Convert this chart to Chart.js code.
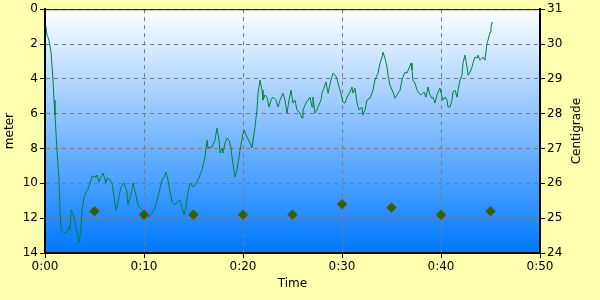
<!DOCTYPE html>
<html>
<head>
<meta charset="utf-8">
<script src="https://cdn.jsdelivr.net/npm/chart.js@4/dist/chart.umd.min.js"></script>
<style>
  html, body { margin: 0; padding: 0; background: #ffffb0; }
</style>
</head>
<body>
<canvas id="chart" width="600" height="300"></canvas>
<script>
Chart.defaults.font.family = "DejaVu Sans";
Chart.defaults.font.size = 12;
Chart.defaults.color = "#000";

// depth log: time in minutes, depth in meters
const depthTimes = [
  0.10, 0.20, 0.30, 0.40, 0.61, 0.81, 0.91, 1.01, 1.21, 1.41, 1.52, 1.62, 1.92, 2.22, 2.42, 2.53,
  2.63, 2.93, 3.13, 3.43, 3.64, 3.74, 3.94, 4.14, 4.34, 4.65, 4.75, 5.15, 5.25, 5.45, 5.66, 5.86,
  6.16, 6.26, 6.57, 6.77, 6.97, 7.17, 7.27, 7.47, 7.68, 7.98, 8.28, 8.38, 8.79, 8.89, 9.19, 9.39,
  9.80, 10.10, 10.51, 10.81, 11.11, 11.41, 11.82, 12.02, 12.22, 12.42, 12.63, 12.83, 13.13, 13.33,
  13.64, 13.84, 14.04, 14.24, 14.44, 14.65, 14.95, 15.15, 15.45, 15.86, 16.16, 16.36, 16.46, 16.87,
  17.17, 17.37, 17.58, 17.68, 17.88, 17.98, 18.18, 18.38, 18.59, 18.79, 18.89, 19.19, 19.39, 19.60,
  19.70, 20.00, 20.10, 20.40, 20.71, 20.91, 21.21, 21.41, 21.52, 21.72, 21.92, 22.02, 22.22, 22.42,
  22.63, 22.83, 23.03, 23.33, 23.54, 23.74, 24.04, 24.24, 24.44, 24.65, 24.85, 25.05, 25.25, 25.45,
  25.76, 25.96, 26.06, 26.36, 26.57, 26.77, 26.97, 27.07, 27.27, 27.47, 27.58, 27.88, 27.98, 28.18,
  28.38, 28.59, 28.89, 29.09, 29.29, 29.49, 29.60, 29.80, 30.10, 30.30, 30.51, 30.81, 31.01, 31.11,
  31.31, 31.52, 31.72, 32.02, 32.12, 32.32, 32.53, 32.83, 33.13, 33.33, 33.64, 33.84, 34.04, 34.14,
  34.34, 34.55, 34.65, 34.85, 35.15, 35.35, 35.56, 35.86, 36.06, 36.16, 36.36, 36.57, 36.77, 36.97,
  37.07, 37.17, 37.37, 37.58, 37.78, 37.98, 38.18, 38.28, 38.48, 38.69, 38.89, 39.09, 39.19, 39.39,
  39.60, 39.70, 39.90, 40.10, 40.20, 40.40, 40.61, 40.71, 40.91, 41.11, 41.21, 41.41, 41.62, 41.72,
  41.92, 42.12, 42.22, 42.42, 42.63, 42.73, 42.93, 43.13, 43.23, 43.43, 43.64, 43.74, 43.94, 44.14,
  44.24, 44.44, 44.65, 44.75, 44.95, 45.05, 45.15, 45.25
];
const depthValues = [
  0.98, 1.49, 1.61, 1.78, 2.47, 4.07, 5.22, 6.08, 8.09, 9.81, 11.53, 12.68, 12.85, 12.79, 12.51, 12.68,
  11.53, 11.93, 12.51, 13.42, 12.51, 11.53, 10.79, 10.50, 10.33, 9.81, 9.58, 9.64, 9.52, 9.93, 9.64, 9.41,
  9.98, 9.70, 9.81, 9.98, 10.79, 11.53, 11.36, 10.79, 10.21, 9.98, 10.50, 11.24, 10.38, 9.98, 10.67, 11.24,
  11.53, 11.70, 11.93, 11.70, 11.42, 10.79, 9.81, 9.64, 9.35, 9.81, 10.50, 11.07, 11.24, 11.07,
  10.96, 11.36, 11.82, 11.36, 10.50, 9.98, 10.21, 10.10, 9.81, 9.24, 8.49, 7.52, 7.97, 7.92,
  7.52, 6.83, 7.52, 8.26, 7.97, 8.26, 7.69, 7.40, 7.52, 7.97, 8.49, 9.64, 9.24, 8.49,
  8.09, 7.11, 6.94, 7.34, 7.69, 7.97, 6.77, 5.79, 4.82, 4.07, 4.65, 5.22, 4.93, 5.05,
  5.62, 5.22, 5.05, 5.22, 5.62, 5.22, 4.82, 5.22, 5.97, 5.22, 4.65, 5.39, 5.22, 5.79,
  5.97, 6.25, 5.79, 5.39, 5.22, 5.05, 5.62, 5.05, 5.97, 5.79, 5.62, 5.22, 4.82, 4.53,
  4.19, 4.82, 4.07, 3.67, 3.79, 3.96, 4.25, 4.65, 5.34, 5.39, 5.05, 4.76, 4.47, 4.82,
  4.53, 5.39, 5.79, 5.62, 6.08, 5.79, 5.22, 5.11, 4.65, 4.07, 3.67, 3.10, 2.75, 2.47,
  2.81, 3.33, 3.79, 4.36, 4.76, 5.11, 4.93, 4.65, 4.07, 3.90, 3.61, 3.67, 3.38, 3.10,
  3.50, 4.07, 4.25, 4.65, 4.82, 4.93, 4.82, 4.76, 5.05, 4.47, 4.93, 5.11, 5.05, 5.39,
  4.93, 4.76, 4.53, 5.05, 5.22, 5.05, 5.22, 5.62, 5.62, 5.22, 4.76, 4.65, 5.05, 4.65,
  4.07, 3.79, 3.10, 2.64, 3.33, 3.79, 3.61, 3.33, 3.10, 2.75, 2.81, 2.64, 2.93, 2.81,
  2.75, 2.93, 1.95, 1.78, 1.32, 1.03, 0.75, 0.80
];

// water temperature samples, every 5 minutes
const tempTimes = [5, 10, 15, 20, 25, 30, 35, 40, 45];
const tempValues = [25.2, 25.1, 25.1, 25.1, 25.1, 25.4, 25.3, 25.1, 25.2];

const depthPoints = depthTimes.map((t, i) => ({ x: t, y: depthValues[i] }));
const tempPoints = tempTimes.map((t, i) => ({ x: t, y: tempValues[i] }));

function timeLabel(v) {
  const h = Math.floor(v / 60);
  const m = v % 60;
  return h + ":" + String(m).padStart(2, "0");
}

// yellow page, blue gradient plot, top frame line, right-side title
const backdrop = {
  id: "backdrop",
  beforeDraw(chart) {
    const { ctx, chartArea: a } = chart;
    ctx.save();
    ctx.fillStyle = "#ffffb0";
    ctx.fillRect(0, 0, chart.width, chart.height);
    const g = ctx.createLinearGradient(0, a.top, 0, a.bottom);
    g.addColorStop(0, "#ffffff");
    g.addColorStop(1, "#0078ff");
    ctx.fillStyle = g;
    ctx.fillRect(a.left, a.top, a.right - a.left, a.bottom - a.top);
    ctx.restore();
  },
  afterDraw(chart) {
    const { ctx, chartArea: a } = chart;
    ctx.save();
    ctx.strokeStyle = "#000";
    ctx.lineWidth = 1;
    ctx.beginPath();
    ctx.moveTo(a.left, a.top + 0.5);
    ctx.lineTo(a.right, a.top + 0.5);
    ctx.stroke();
    ctx.translate(577, (a.top + a.bottom) / 2);
    ctx.rotate(-Math.PI / 2);
    ctx.font = "12px 'DejaVu Sans'";
    ctx.fillStyle = "#000";
    ctx.textAlign = "center";
    ctx.textBaseline = "middle";
    ctx.fillText("Centigrade", 0, 0);
    ctx.restore();
  },
};

const ctx = document.getElementById("chart");

const chart = new Chart(ctx, {
  type: "line",
  data: {
    datasets: [
      {
        label: "Temperature",
        data: tempPoints,
        yAxisID: "y2",
        showLine: false,
        pointStyle: "rectRot",
        pointRadius: 5,
        backgroundColor: "#226a00",
        borderColor: "#8a4a3a",
        borderWidth: 1,
      },
      {
        label: "Depth",
        data: depthPoints,
        yAxisID: "y",
        borderColor: "#00823c",
        borderWidth: 1,
        pointRadius: 0,
        tension: 0,
        fill: false,
      },
    ],
  },
  options: {
    responsive: false,
    animation: false,
    layout: { padding: { top: 9, left: 0, right: 0, bottom: 0 } },
    plugins: {
      legend: { display: false },
      tooltip: { enabled: false },
    },
    scales: {
      x: {
        type: "linear",
        position: "bottom",
        min: 0,
        max: 50,
        ticks: { stepSize: 10, callback: timeLabel, padding: 2, maxRotation: 0 },
        grid: { color: "#7a7a7a", tickColor: "#000", tickLength: 5, tickBorderDash: [] },
        border: { color: "#000", width: 2, dash: [4, 4] },
        title: { display: true, text: "Time", padding: { top: 0, bottom: 9 } },
        afterFit(scale) { scale.height = 47; },
      },
      y: {
        position: "left",
        reverse: true,
        min: 0,
        max: 14,
        ticks: { stepSize: 2, padding: 2 },
        grid: { color: "#7a7a7a", tickColor: "#000", tickLength: 5, tickBorderDash: [] },
        border: { color: "#000", width: 2, dash: [4, 4] },
        title: { display: true, text: "meter", padding: { top: 3, bottom: 0 } },
        afterFit(scale) { scale.width = 45; },
      },
      y2: {
        position: "right",
        min: 24,
        max: 31,
        ticks: { stepSize: 1, padding: 2 },
        grid: { drawOnChartArea: false, tickColor: "#000", tickLength: 5 },
        border: { color: "#000", width: 2 },
        afterFit(scale) { scale.width = 60; },
      },
    },
  },
  plugins: [backdrop],
});
</script>
</body>
</html>
